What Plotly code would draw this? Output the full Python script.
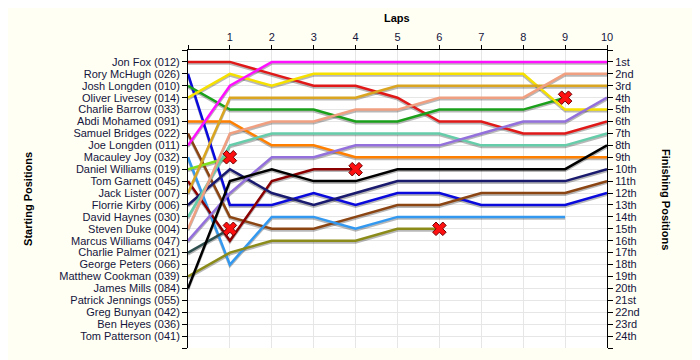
import plotly.graph_objects as go

laps = list(range(0, 11))
lap_labels = [""] + [str(i) for i in range(1, 11)]

starting_names = [
    "Jon Fox (012)", "Rory McHugh (026)", "Josh Longden (010)", "Oliver Livesey (014)",
    "Charlie Barrow (033)", "Abdi Mohamed (091)", "Samuel Bridges (022)", "Joe Longden (011)",
    "Macauley Joy (032)", "Daniel Williams (019)", "Tom Garnett (045)", "Jack Lister (007)",
    "Florrie Kirby (006)", "David Haynes (030)", "Steven Duke (004)", "Marcus Williams (047)",
    "Charlie Palmer (021)", "George Peters (066)", "Matthew Cookman (039)", "James Mills (084)",
    "Patrick Jennings (055)", "Greg Bunyan (042)", "Ben Heyes (036)", "Tom Patterson (041)",
]
finishing_labels = [
    "1st", "2nd", "3rd", "4th", "5th", "6th", "7th", "8th", "9th", "10th", "11th", "12th",
    "13th", "14th", "15th", "16th", "17th", "18th", "19th", "20th", "21st", "22nd", "23rd", "24th",
]

# positions per lap (lap 0 = start)
jon_fox = [1, 1, 2, 3, 3, 4, 6, 6, 7, 7, 6]
rory_mchugh = [2, 13, 13, 12, 13, 12, 12, 13, 13, 13, 12]
josh_longden = [3, 5, 5, 5, 6, 6, 5, 5, 5, 4]
oliver_livesey = [4, 2, 3, 2, 2, 2, 2, 2, 2, 5, 5]
abdi_mohamed = [6, 6, 8, 8, 9, 9, 9, 9, 9, 9, 9]
samuel_bridges = [7, 14, 15, 15, 14, 13, 13, 12, 12, 12, 11]
joe_longden = [8, 3, 1, 1, 1, 1, 1, 1, 1, 1, 1]
macauley_joy = [9, 18, 14, 14, 15, 14, 14, 14, 14, 14]
daniel_williams = [10, 9]
tom_garnett = [11, 16, 11, 10, 10]
jack_lister = [12, 4, 4, 4, 4, 3, 3, 3, 3, 3, 3]
florrie_kirby = [13, 10, 12, 13, 12, 11, 11, 11, 11, 11, 10]
david_haynes = [14, 8, 7, 7, 7, 7, 7, 8, 8, 8, 7]
steven_duke = [15, 7, 6, 6, 5, 5, 4, 4, 4, 2, 2]
marcus_williams = [16, 12, 9, 9, 8, 8, 8, 7, 6, 6, 4]
charlie_palmer = [17, 15]
matthew_cookman = [19, 17, 16, 16, 16, 15, 15]
james_mills = [20, 11, 10, 11, 11, 10, 10, 10, 10, 10, 8]

drivers = [
    ("Jon Fox (012)", jon_fox, "#E01818", False),
    ("Rory McHugh (026)", rory_mchugh, "#0A0ADC", False),
    ("Josh Longden (010)", josh_longden, "#1AA01A", True),
    ("Oliver Livesey (014)", oliver_livesey, "#F5E000", False),
    ("Abdi Mohamed (091)", abdi_mohamed, "#FF8000", False),
    ("Samuel Bridges (022)", samuel_bridges, "#8B4513", False),
    ("Joe Longden (011)", joe_longden, "#FF10FF", False),
    ("Macauley Joy (032)", macauley_joy, "#3399F0", False),
    ("Daniel Williams (019)", daniel_williams, "#80E020", True),
    ("Tom Garnett (045)", tom_garnett, "#8B0000", True),
    ("Jack Lister (007)", jack_lister, "#DAA520", False),
    ("Florrie Kirby (006)", florrie_kirby, "#1A1A6E", False),
    ("David Haynes (030)", david_haynes, "#66CDAA", False),
    ("Steven Duke (004)", steven_duke, "#F0A080", False),
    ("Marcus Williams (047)", marcus_williams, "#9370DB", False),
    ("Charlie Palmer (021)", charlie_palmer, "#2F4F4F", True),
    ("Matthew Cookman (039)", matthew_cookman, "#8B8B1A", True),
    ("James Mills (084)", james_mills, "#000000", False),
]

fig = go.Figure()

# drop shadows
for name, pos, color, retired in drivers:
    fig.add_trace(go.Scatter(
        x=laps[:len(pos)], y=[p + 0.14 for p in pos], mode="lines",
        line=dict(color="rgba(0,0,0,0.28)", width=2.5),
        hoverinfo="skip", showlegend=False,
    ))

for name, pos, color, retired in drivers:
    fig.add_trace(go.Scatter(
        x=laps[:len(pos)], y=pos, mode="lines", name=name,
        line=dict(color=color, width=2.5), showlegend=False,
    ))

# retirement markers (on overlaying axis so they sit above lines)
rx, ry = [], []
for name, pos, color, retired in drivers:
    if retired:
        rx.append(laps[len(pos) - 1])
        ry.append(pos[-1])
fig.add_trace(go.Scatter(
    x=rx, y=ry, mode="markers", yaxis="y2",
    marker=dict(symbol="x", size=12, color="#FF1010", line=dict(color="#700000", width=1)),
    showlegend=False, hoverinfo="skip",
))

FONT = "Liberation Sans, Arial, sans-serif"
tick_font = dict(family=FONT, size=11, color="#14143C")
title_font = dict(family=FONT, size=11, color="#000000")
yvals = list(range(0, 26))

fig.update_layout(
    width=700, height=360,
    margin=dict(l=180, r=101, t=42, b=20),
    paper_bgcolor="#FFFFF4",
    plot_bgcolor="#FFFFFF",
    showlegend=False,
    xaxis=dict(
        side="top", range=[0, 10], tickmode="array", tickvals=laps, ticktext=lap_labels,
        showgrid=True, gridcolor="#E6E6E6", gridwidth=1, zeroline=False,
        showline=True, linecolor="#000000", linewidth=1,
        ticks="outside", ticklen=4, tickcolor="#000000", tickfont=tick_font,
        fixedrange=True,
    ),
    yaxis=dict(
        range=[25, 0], tickmode="array", tickvals=yvals,
        ticktext=[""] + starting_names + [""],
        showgrid=True, gridcolor="#E6E6E6", gridwidth=1, zeroline=False,
        showline=True, linecolor="#000000", linewidth=1,
        ticks="outside", ticklen=5, tickcolor="#000000", tickfont=tick_font,
    ),
    yaxis2=dict(
        overlaying="y", side="right", range=[25, 0], tickmode="array", tickvals=yvals,
        ticktext=[""] + finishing_labels + [""],
        showgrid=False, zeroline=False,
        showline=True, linecolor="#000000", linewidth=1,
        ticks="outside", ticklen=5, tickcolor="#000000", tickfont=tick_font,
    ),
    annotations=[
        dict(text="<b>Laps</b>", x=0.4988, y=1.107, xref="paper", yref="paper",
             xanchor="center", yanchor="middle", showarrow=False, font=title_font),
        dict(text="<b>Starting Positions</b>", x=-0.382, y=0.5, xref="paper", yref="paper",
             xanchor="center", yanchor="middle", textangle=-90, showarrow=False, font=title_font),
        dict(text="<b>Finishing Positions</b>", x=1.141, y=0.5, xref="paper", yref="paper",
             xanchor="center", yanchor="middle", textangle=90, showarrow=False, font=title_font),
    ],
)

fig.write_html("out.html")
